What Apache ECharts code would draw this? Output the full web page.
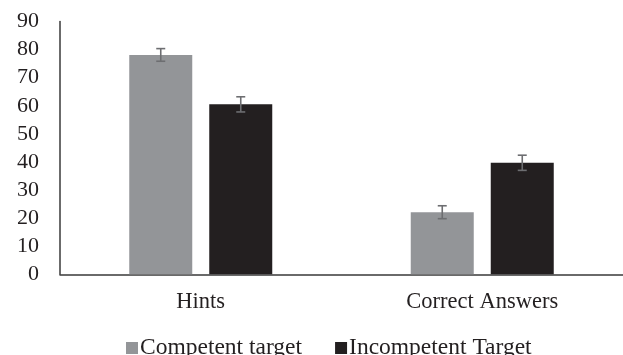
<!DOCTYPE html>
<html>
<head>
<meta charset="utf-8">
<script src="https://cdn.jsdelivr.net/npm/echarts@6/dist/echarts.min.js"></script>
<style>html,body{margin:0;padding:0;background:#fff}#c{width:623px;height:355px}</style>
</head>
<body>
<div id="c"></div>
<script>
var categories = ['Hints', 'Correct Answers'];
var seriesNames = ['Competent target', 'Incompetent Target'];
var competent = [78.1, 22.1];
var incompetent = [60.5, 39.7];
var competentErr = [2.25, 2.3];
var incompetentErr = [2.7, 2.7];

var BAR_W = 63, GAP = 17;
var FONT = '"Liberation Serif", "Times New Roman", serif';

function errSeries(vals, errs, sign) {
  var data = vals.map(function (v, i) { return [i, v - errs[i], v + errs[i]]; });
  return {
    type: 'custom',
    z: 5,
    silent: true,
    data: data,
    renderItem: function (params, api) {
      var i = api.value(0);
      var lo = api.coord([i, api.value(1)]);
      var hi = api.coord([i, api.value(2)]);
      var x = lo[0] + sign * (BAR_W + GAP) / 2;
      var cw = 4.5;
      var st = { stroke: '#6d6e71', lineWidth: 1.6 };
      return {
        type: 'group',
        children: [
          { type: 'line', shape: { x1: x, y1: lo[1], x2: x, y2: hi[1] }, style: st },
          { type: 'line', shape: { x1: x - cw, y1: lo[1], x2: x + cw, y2: lo[1] }, style: st },
          { type: 'line', shape: { x1: x - cw, y1: hi[1], x2: x + cw, y2: hi[1] }, style: st }
        ]
      };
    }
  };
}

var chart = echarts.init(document.getElementById('c'), null, { renderer: 'canvas' });
chart.setOption({
  animation: false,
  grid: { left: 60, top: 21.5, height: 252.8, width: 568, containLabel: false },
  legend: {
    data: seriesNames,
    left: 121,
    top: 331,
    itemWidth: 12,
    itemHeight: 12,
    itemGap: 33,
    icon: 'rect',
    textStyle: { fontFamily: FONT, fontSize: 23.5, color: '#231f20', padding: [0, 0, 2, -3] }
  },
  xAxis: {
    type: 'category',
    data: categories,
    axisLine: { lineStyle: { color: '#3a3a3a', width: 1.5 } },
    axisTick: { show: false },
    axisLabel: { fontFamily: FONT, fontSize: 22.5, color: '#231f20', margin: 16 }
  },
  yAxis: {
    type: 'value',
    min: 0,
    max: 90,
    interval: 10,
    splitLine: { show: false },
    axisLine: { show: true, lineStyle: { color: '#3a3a3a', width: 1.5 } },
    axisTick: { show: false },
    axisLabel: { fontFamily: FONT, fontSize: 22, color: '#231f20', margin: 21 }
  },
  series: [
    {
      name: seriesNames[0], type: 'bar', data: competent, barWidth: BAR_W, barGap: (GAP / BAR_W * 100) + '%',
      itemStyle: { color: '#939598' }
    },
    {
      name: seriesNames[1], type: 'bar', data: incompetent, barWidth: BAR_W,
      itemStyle: { color: '#231f20' }
    },
    errSeries(competent, competentErr, -1),
    errSeries(incompetent, incompetentErr, 1)
  ]
});
</script>
</body>
</html>
